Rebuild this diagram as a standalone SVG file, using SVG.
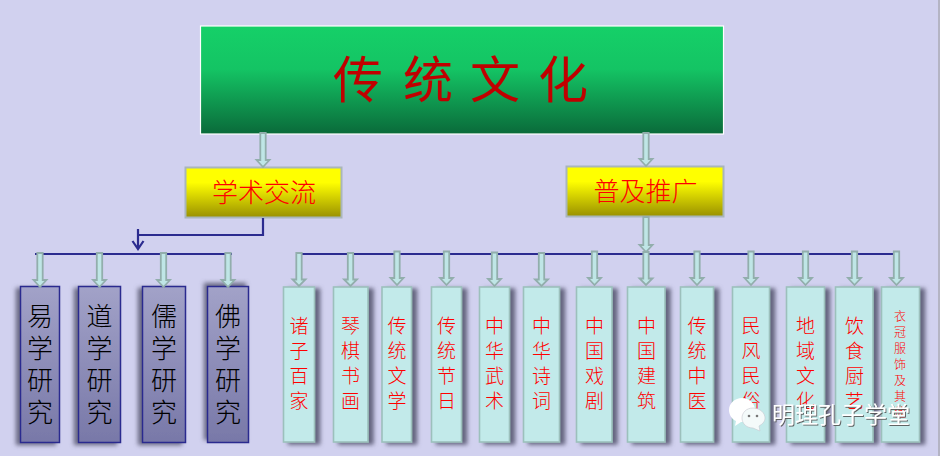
<svg xmlns="http://www.w3.org/2000/svg" width="940" height="456" viewBox="0 0 940 456">
<style>
text{font-family:"Noto Sans CJK SC","Liberation Serif",serif;text-anchor:middle;font-weight:300}
.t{fill:#c00000;font-size:50px;font-weight:400}
.y{fill:url(#gy);stroke:#a9b6ba;stroke-width:2}
.yt{fill:#ff0000;font-size:26px}
.a{fill:#bfe6e6;stroke:#92aeac;stroke-width:1.8}
.bus{fill:none;stroke:#2b2b8f;stroke-width:2.2}
.l{fill:url(#gl);stroke:#2b2b8f;stroke-width:1.5}
.lt{fill:#000;font-size:26px}
.r{fill:#c2eaea;stroke:#9cc0bc;stroke-width:1.6;filter:url(#sr)}
.rt{fill:#ff0000;font-size:19px}
.wm{fill:#fff;font-size:23px;text-anchor:start;font-weight:400;filter:url(#sw)}
</style>
<defs>
<linearGradient id="gg" x1="0" y1="0" x2="0" y2="1"><stop offset="0" stop-color="#15d068"/><stop offset=".4" stop-color="#14c464"/><stop offset="1" stop-color="#0a6a3a"/></linearGradient>
<linearGradient id="gy" x1="0" y1="0" x2="0" y2="1"><stop offset="0" stop-color="#ffff00"/><stop offset=".3" stop-color="#ffff00"/><stop offset="1" stop-color="#999000"/></linearGradient>
<linearGradient id="gl" x1="0" y1="0" x2="0" y2="1"><stop offset="0" stop-color="#a2a2c8"/><stop offset="1" stop-color="#7878a8"/></linearGradient>
<filter id="sr" x="-30%" y="-5%" width="170%" height="110%"><feDropShadow dx="5" dy="2" stdDeviation="2" flood-color="#60607a" flood-opacity=".95"/></filter>
<filter id="sl" x="-40%" y="-5%" width="170%" height="110%"><feDropShadow dx="-4" dy="2" stdDeviation="2" flood-color="#60607a" flood-opacity=".9"/></filter>
<filter id="st" x="-40%" y="-5%" width="170%" height="110%"><feDropShadow dx="-3" dy="-3" stdDeviation="2" flood-color="#60607a" flood-opacity=".9"/></filter>
<filter id="sw" x="-5%" y="-20%" width="110%" height="150%"><feDropShadow dx="1" dy="1" stdDeviation=".5" flood-color="#555555" flood-opacity=".9"/></filter>
</defs>
<rect width="940" height="456" fill="#d1d1ef"/>
<rect x="938" width="2" height="456" fill="#b4b4c4"/>
<g id="root"><rect x="200.5" y="26" width="523" height="108" fill="url(#gg)" stroke="#fff" stroke-width="1.2"/>
<text class="t" x="358" y="98">传</text><text class="t" x="428" y="98">统</text><text class="t" x="495" y="98">文</text><text class="t" x="563" y="98">化</text></g>
<g id="n-xueshu"><rect class="y" x="185.5" y="167.5" width="156" height="50"/><text class="yt" x="264" y="201.500">学术交流</text></g>
<g id="n-puji"><rect class="y" x="566.5" y="166.5" width="157" height="50"/><text class="yt" x="645.500" y="200.500">普及推广</text></g>
<g id="l1"><rect class="l" style="filter:url(#sl)" x="20.5" y="286.5" width="39" height="156"/><text class="lt"><tspan x="40" y="326">易</tspan><tspan x="40" y="358">学</tspan><tspan x="40" y="390">研</tspan><tspan x="40" y="422">究</tspan></text></g>
<g id="l2"><rect class="l" style="filter:url(#sl)" x="78.5" y="286.5" width="42" height="156"/><text class="lt"><tspan x="99.5" y="326">道</tspan><tspan x="99.5" y="358">学</tspan><tspan x="99.5" y="390">研</tspan><tspan x="99.5" y="422">究</tspan></text></g>
<g id="l3"><rect class="l" style="filter:url(#sl)" x="142.5" y="286.5" width="43" height="156"/><text class="lt"><tspan x="164" y="326">儒</tspan><tspan x="164" y="358">学</tspan><tspan x="164" y="390">研</tspan><tspan x="164" y="422">究</tspan></text></g>
<g id="l4"><rect class="l" style="filter:url(#st)" x="207.5" y="286.5" width="41" height="156"/><text class="lt"><tspan x="228" y="326">佛</tspan><tspan x="228" y="358">学</tspan><tspan x="228" y="390">研</tspan><tspan x="228" y="422">究</tspan></text></g>
<g id="r1"><rect class="r" x="283.5" y="287" width="31" height="155"/><text class="rt"><tspan x="299" y="333">诸</tspan><tspan x="299" y="358">子</tspan><tspan x="299" y="383">百</tspan><tspan x="299" y="408">家</tspan></text></g>
<g id="r2"><rect class="r" x="333.5" y="287" width="34.500" height="155"/><text class="rt"><tspan x="350.500" y="333">琴</tspan><tspan x="350.500" y="358">棋</tspan><tspan x="350.500" y="383">书</tspan><tspan x="350.500" y="408">画</tspan></text></g>
<g id="r3"><rect class="r" x="382" y="287" width="29.500" height="155"/><text class="rt"><tspan x="397" y="333">传</tspan><tspan x="397" y="358">统</tspan><tspan x="397" y="383">文</tspan><tspan x="397" y="408">学</tspan></text></g>
<g id="r4"><rect class="r" x="431.500" y="287" width="30" height="155"/><text class="rt"><tspan x="446.500" y="333">传</tspan><tspan x="446.500" y="358">统</tspan><tspan x="446.500" y="383">节</tspan><tspan x="446.500" y="408">日</tspan></text></g>
<g id="r5"><rect class="r" x="479.500" y="287" width="30" height="155"/><text class="rt"><tspan x="494.500" y="333">中</tspan><tspan x="494.500" y="358">华</tspan><tspan x="494.500" y="383">武</tspan><tspan x="494.500" y="408">术</tspan></text></g>
<g id="r6"><rect class="r" x="523.500" y="287" width="36" height="155"/><text class="rt"><tspan x="541.500" y="333">中</tspan><tspan x="541.500" y="358">华</tspan><tspan x="541.500" y="383">诗</tspan><tspan x="541.500" y="408">词</tspan></text></g>
<g id="r7"><rect class="r" x="576.500" y="287" width="35.500" height="155"/><text class="rt"><tspan x="594.500" y="333">中</tspan><tspan x="594.500" y="358">国</tspan><tspan x="594.500" y="383">戏</tspan><tspan x="594.500" y="408">剧</tspan></text></g>
<g id="r8"><rect class="r" x="627.500" y="287" width="37.500" height="155"/><text class="rt"><tspan x="646.500" y="333">中</tspan><tspan x="646.500" y="358">国</tspan><tspan x="646.500" y="383">建</tspan><tspan x="646.500" y="408">筑</tspan></text></g>
<g id="r9"><rect class="r" x="680.500" y="287" width="33" height="155"/><text class="rt"><tspan x="697" y="333">传</tspan><tspan x="697" y="358">统</tspan><tspan x="697" y="383">中</tspan><tspan x="697" y="408">医</tspan></text></g>
<g id="r10"><rect class="r" x="732.500" y="287" width="37" height="155"/><text class="rt"><tspan x="751" y="333">民</tspan><tspan x="751" y="358">风</tspan><tspan x="751" y="383">民</tspan><tspan x="751" y="408">俗</tspan></text></g>
<g id="r11"><rect class="r" x="786.500" y="287" width="38" height="155"/><text class="rt"><tspan x="805.500" y="333">地</tspan><tspan x="805.500" y="358">域</tspan><tspan x="805.500" y="383">文</tspan><tspan x="805.500" y="408">化</tspan></text></g>
<g id="r12"><rect class="r" x="835.500" y="287" width="37.500" height="155"/><text class="rt"><tspan x="854.500" y="333">饮</tspan><tspan x="854.500" y="358">食</tspan><tspan x="854.500" y="383">厨</tspan><tspan x="854.500" y="408">艺</tspan></text></g>
<g id="r13"><rect class="r" x="881.500" y="287" width="38" height="155"/><text class="rt" style="font-size:12px"><tspan x="900" y="321">衣</tspan><tspan x="900" y="337">冠</tspan><tspan x="900" y="353">服</tspan><tspan x="900" y="369">饰</tspan><tspan x="900" y="385">及</tspan><tspan x="900" y="401">其</tspan><tspan x="900" y="417">他</tspan></text></g>
<g id="connectors">
<path class="bus" d="M263 218V235H138M138 229V249M132.500 241L138 249L143.500 241M35 254H232M300 254H898"/>
<g id="arrows">
<path class="a" d="M260.300 133H265.700V160H269.500L263 167L256.500 160H260.300Z"/>
<path class="a" d="M643.300 133H648.700V159H652.500L646 166L639.500 159H643.300Z"/>
<path class="a" d="M643.300 217H648.700V245H652.500L646 252L639.500 245H643.300Z"/>
<path class="a" d="M37.300 253H42.700V280H46.500L40 287L33.500 280H37.300Z"/>
<path class="a" d="M96.800 253H102.200V280H106L99.500 287L93 280H96.800Z"/>
<path class="a" d="M160.800 253H166.200V280H170L163.500 287L157 280H160.800Z"/>
<path class="a" d="M225.300 253H230.700V280H234.500L228 287L221.500 280H225.300Z"/>
<path class="a" d="M296.300 253H301.700V279.500H305.500L299 286L292.500 279.500H296.300Z"/>
<path class="a" d="M347.800 253H353.200V279.500H357L350.500 286L344 279.500H347.800Z"/>
<path class="a" d="M394.300 251.500H399.700V278H403.500L397 285L390.500 278H394.300Z"/>
<path class="a" d="M443.800 251.500H449.200V278H453L446.500 285L440 278H443.800Z"/>
<path class="a" d="M491.800 252.500H497.200V279H501L494.500 286L488 279H491.800Z"/>
<path class="a" d="M538.800 253H544.200V279.500H548L541.500 286L535 279.500H538.800Z"/>
<path class="a" d="M591.800 251.500H597.200V278H601L594.500 285L588 278H591.800Z"/>
<path class="a" d="M643.300 252H648.700V278.500H652.500L646 285L639.500 278.500H643.300Z"/>
<path class="a" d="M694.300 251.500H699.700V278H703.500L697 285L690.500 278H694.300Z"/>
<path class="a" d="M748.300 251.500H753.700V278H757.500L751 285L744.500 278H748.300Z"/>
<path class="a" d="M802.800 251.500H808.200V278H812L805.500 285L799 278H802.800Z"/>
<path class="a" d="M851.800 251.500H857.200V278H861L854.500 285L848 278H851.800Z"/>
<path class="a" d="M893.800 251.500H899.200V278H903L896.500 285L890 278H893.800Z"/>
</g>
</g>
<g id="watermark">
<path d="M742 398C735 398 729 403 729 410C729 415 732 419 736 421L735 426L741 422L747 422C752 421 755 416 755 410C755 403 749 398 742 398Z" fill="#fff"/>
<path d="M753 408C746 408 742 413 742 418C742 424 747 428 753 428L760 431L759 426C763 424 765 421 765 418C765 413 760 408 753 408Z" fill="#f4fafa" stroke="#c8c8d0" stroke-width=".6"/>
<circle cx="749" cy="416" r="1.300" fill="#777"/><circle cx="757" cy="416" r="1.300" fill="#777"/>
<text class="wm" x="772" y="423">明理孔子学堂</text>
</g>
</svg>
